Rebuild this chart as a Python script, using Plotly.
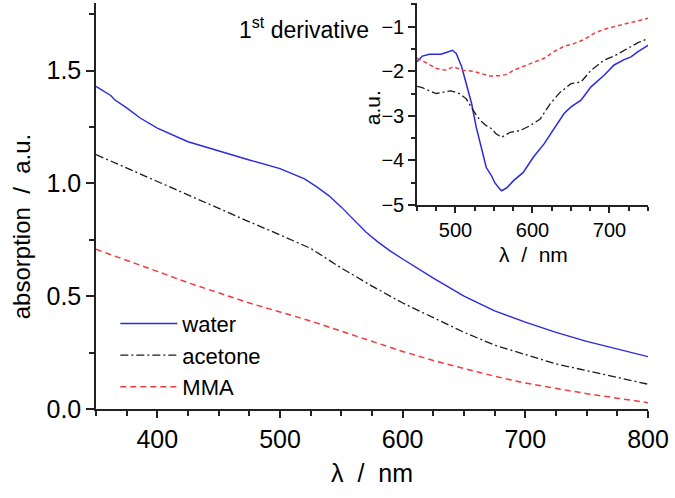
import plotly.graph_objects as go

# ---------------- data ----------------
wl_main = [350, 362, 365, 375, 386, 400, 425, 450, 475, 500, 520, 530, 540, 550,
           560, 570, 580, 590, 600, 625, 650, 675, 700, 725, 750, 775, 800]
water = [1.43, 1.39, 1.372, 1.335, 1.29, 1.245, 1.185, 1.144, 1.104, 1.066, 1.02,
         0.985, 0.945, 0.895, 0.84, 0.785, 0.74, 0.70, 0.665, 0.58, 0.50, 0.435,
         0.385, 0.34, 0.30, 0.265, 0.232]

wl_ac = [350, 375, 400, 425, 450, 475, 500, 525, 550, 575, 600, 625, 650, 675,
         700, 725, 750, 775, 800]
acetone = [1.128, 1.068, 1.008, 0.948, 0.888, 0.83, 0.772, 0.712, 0.625, 0.545,
           0.47, 0.405, 0.34, 0.283, 0.24, 0.20, 0.17, 0.14, 0.11]

wl_mma = wl_ac
mma = [0.708, 0.66, 0.61, 0.56, 0.515, 0.47, 0.43, 0.39, 0.345, 0.30, 0.255,
       0.215, 0.18, 0.145, 0.115, 0.09, 0.068, 0.048, 0.028]

# inset: 1st derivative
wl_d_water = [450, 457, 466, 470, 481, 490, 496, 501, 508, 514, 521, 527, 534, 540,
              547, 551, 558, 560, 567, 575, 588, 601, 615, 628, 641, 650, 663,
              676, 693, 706, 719, 728, 737, 751]
d_water = [-1.79, -1.66, -1.62, -1.62, -1.62, -1.57, -1.53, -1.6, -1.9, -2.28,
           -2.73, -3.26, -3.78, -4.16, -4.35, -4.5, -4.65, -4.68, -4.61, -4.46,
           -4.27, -3.93, -3.63, -3.29, -2.95, -2.8, -2.65, -2.35, -2.09, -1.86,
           -1.74, -1.68, -1.56, -1.41]

wl_d_ac = [450, 457, 466, 475, 484, 494, 505, 514, 523, 532, 540, 547, 553, 560,
           571, 584, 597, 610, 623, 636, 650, 663, 676, 693, 706, 719, 737, 751]
d_acetone = [-2.34, -2.37, -2.44, -2.5, -2.47, -2.44, -2.5, -2.62, -2.88, -3.1,
             -3.22, -3.29, -3.41, -3.48, -3.37, -3.33, -3.22, -3.07, -2.73, -2.47,
             -2.28, -2.24, -1.98, -1.75, -1.66, -1.53, -1.36, -1.26]

wl_d_mma = [450, 462, 475, 488, 497, 510, 523, 536, 545, 558, 567, 575, 588, 601,
            615, 628, 641, 654, 667, 680, 693, 706, 724, 737, 751]
d_mma = [-1.71, -1.81, -1.94, -1.98, -1.9, -1.98, -2.0, -2.07, -2.11, -2.1, -2.07,
         -1.98, -1.89, -1.81, -1.71, -1.56, -1.44, -1.38, -1.29, -1.15, -1.06,
         -1.0, -0.92, -0.86, -0.81]

names = ["water", "acetone", "MMA"]

# ---------------- styling ----------------
FONT = "Liberation Sans, Arial, sans-serif"
BLUE = "#2a2ae0"
BLACK = "#1a1a1a"
RED = "#f03c3c"
AX = "#222222"

fig = go.Figure()

fig.add_trace(go.Scatter(x=wl_main, y=water, name=names[0], mode="lines",
                         line=dict(color=BLUE, width=1.4), xaxis="x", yaxis="y"))
fig.add_trace(go.Scatter(x=wl_ac, y=acetone, name=names[1], mode="lines",
                         line=dict(color=BLACK, width=1.3, dash="8px,3px,2px,3px"),
                         xaxis="x", yaxis="y"))
fig.add_trace(go.Scatter(x=wl_mma, y=mma, name=names[2], mode="lines",
                         line=dict(color=RED, width=1.5, dash="6px,4px"),
                         xaxis="x", yaxis="y"))

fig.add_trace(go.Scatter(x=wl_d_water, y=d_water, mode="lines", showlegend=False,
                         line=dict(color=BLUE, width=1.5), xaxis="x2", yaxis="y2"))
fig.add_trace(go.Scatter(x=wl_d_ac, y=d_acetone, mode="lines", showlegend=False,
                         line=dict(color=BLACK, width=1.3, dash="8px,3px,2px,3px"),
                         xaxis="x2", yaxis="y2"))
fig.add_trace(go.Scatter(x=wl_d_mma, y=d_mma, mode="lines", showlegend=False,
                         line=dict(color=RED, width=1.5, dash="4px,3px"),
                         xaxis="x2", yaxis="y2"))

tickfont_main = dict(family=FONT, size=25, color="black")
tickfont_ins = dict(family=FONT, size=20, color="black")

base = dict(showgrid=False, zeroline=False, showline=True, linecolor=AX, linewidth=1.5,
            tickcolor=AX, tickwidth=1.5)

fig.update_layout(
    width=675, height=498,
    margin=dict(l=96, r=27, t=3, b=89),
    paper_bgcolor="white", plot_bgcolor="white",
    showlegend=True,
    legend=dict(x=0.035, y=0.262, xanchor="left", yanchor="top",
                font=dict(family=FONT, size=22, color="black"),
                bgcolor="rgba(0,0,0,0)", itemwidth=57, tracegroupgap=0),
    xaxis=dict(**base, range=[350, 800], ticks="outside", ticklen=7,
               tickvals=[400, 500, 600, 700, 800], tickfont=tickfont_main,
               minor=dict(ticks="outside", dtick=25, tick0=350, ticklen=5,
                          tickcolor=AX, tickwidth=1.5),
               anchor="y", domain=[0, 1]),
    yaxis=dict(**base, range=[0, 1.8], ticks="outside", ticklen=8,
               tickvals=[0, 0.5, 1.0, 1.5], ticktext=["0.0", "0.5", "1.0", "1.5"],
               tickfont=tickfont_main,
               minor=dict(ticks="outside", dtick=0.25, tick0=0, ticklen=5,
                          tickcolor=AX, tickwidth=1.5),
               anchor="x", domain=[0, 1]),
    # top mirror of main x (inside ticks), only left of the inset
    xaxis3=dict(**base, range=[350, 800], overlaying="x", side="top", anchor="y",
                ticks="inside", ticklen=8, tickvals=[400, 500, 600],
                showticklabels=False,
                minor=dict(ticks="inside", tickvals=[375, 425, 450, 475, 525, 550, 575],
                           ticklen=5, tickcolor=AX, tickwidth=1.5)),
    # right mirror of main y (inside ticks)
    yaxis3=dict(**base, range=[0, 1.8], overlaying="y", side="right", anchor="x",
                ticks="inside", ticklen=8, tickvals=[0, 0.5, 1.0, 1.5],
                showticklabels=False,
                minor=dict(ticks="inside", dtick=0.25, tick0=0, ticklen=5,
                           tickcolor=AX, tickwidth=1.5)),
    # inset
    xaxis2=dict(**base, range=[450, 750], domain=[0.5815, 1], anchor="y2",
                ticks="outside", ticklen=6, tickvals=[500, 600, 700],
                tickfont=tickfont_ins,
                minor=dict(ticks="outside", dtick=25, tick0=450, ticklen=4,
                           tickcolor=AX, tickwidth=1.5)),
    yaxis2=dict(**base, range=[-5, -0.47], domain=[0.5025, 1], anchor="x2",
                ticks="outside", ticklen=7, tickvals=[-5, -4, -3, -2, -1],
                tickfont=tickfont_ins,
                minor=dict(ticks="outside", dtick=0.5, tick0=-5, ticklen=4,
                           tickcolor=AX, tickwidth=1.5)),
    xaxis4=dict(**base, range=[450, 750], overlaying="x2", side="top", anchor="y2",
                ticks="inside", ticklen=7, tickvals=[500, 600, 700],
                showticklabels=False,
                minor=dict(ticks="inside", dtick=25, tick0=450, ticklen=4,
                           tickcolor=AX, tickwidth=1.5)),
    yaxis4=dict(**base, range=[-5, -0.47], overlaying="y2", side="right", anchor="x2",
                ticks="", showticklabels=False),
)

ann_font = lambda s: dict(family=FONT, size=s, color="black")
fig.add_annotation(text="absorption  /  a.u.", xref="paper", yref="paper",
                   x=-0.136, y=0.45, textangle=-90, showarrow=False,
                   xanchor="center", yanchor="middle", font=ann_font(24))
fig.add_annotation(text="λ  /  nm", xref="paper", yref="paper", x=0.5, y=-0.158,
                   showarrow=False, xanchor="center", yanchor="middle",
                   font=ann_font(25))
fig.add_annotation(text="λ  /  nm", xref="paper", yref="paper", x=0.7917, y=0.38,
                   showarrow=False, xanchor="center", yanchor="middle",
                   font=ann_font(21))
fig.add_annotation(text="a.u.", xref="paper", yref="paper", x=0.5, y=0.741,
                   textangle=-90, showarrow=False, xanchor="center",
                   yanchor="middle", font=ann_font(21))
fig.add_annotation(text="1<sup>st</sup> derivative", xref="paper", yref="paper",
                   x=0.4982, y=0.938, showarrow=False, xanchor="right",
                   yanchor="middle", font=ann_font(23))

fig.write_html("out.html", config={"displayModeBar": False},
               post_script="document.body.style.margin='0';document.body.style.padding='0';")
